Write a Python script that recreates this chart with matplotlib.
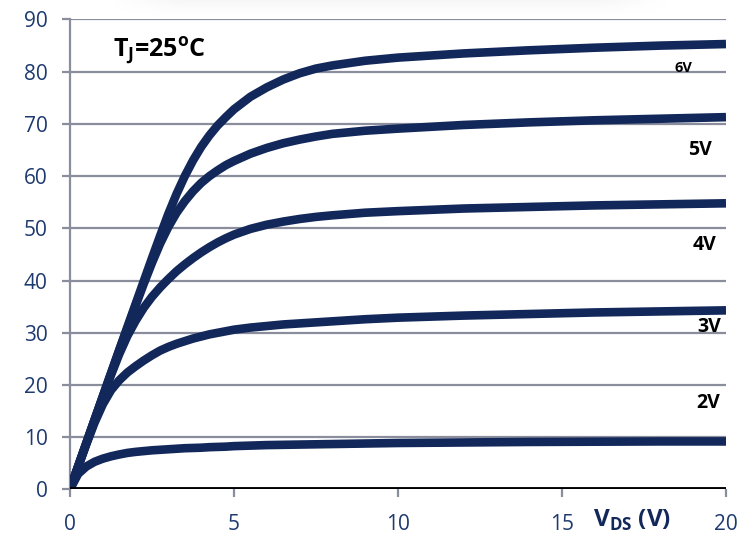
import matplotlib
matplotlib.use("Agg")
import matplotlib.pyplot as plt
import numpy as np

# output characteristics
vds = [0, 0.25, 0.5, 0.75, 1, 1.25, 1.5, 1.75, 2, 2.25, 2.5, 2.75, 3, 3.25, 3.5, 3.75,
       4, 4.25, 4.5, 4.75, 5, 5.5, 6, 6.5, 7, 7.5, 8, 9, 10, 12, 14, 16, 18, 20]
id_6v = [0, 4.45, 8.9, 13.35, 17.8, 22.25, 26.7, 31.1, 35.5, 39.9, 44.3, 48.6, 52.8, 56.6,
         60, 63, 65.6, 67.8, 69.7, 71.3, 72.8, 75.2, 77.0, 78.5, 79.7, 80.6, 81.2,
         82.1, 82.7, 83.5, 84.1, 84.6, 85.0, 85.3]
id_5v = [0, 4.45, 8.9, 13.35, 17.8, 22.2, 26.6, 30.9, 35.2, 39.4, 43.4, 47.1, 50.3, 53,
         55.2, 57.1, 58.7, 60, 61.1, 62.1, 62.9, 64.3, 65.4, 66.3, 67, 67.6, 68.1,
         68.7, 69.1, 69.8, 70.3, 70.7, 71.0, 71.3]
id_4v = [0, 4.45, 8.9, 13.3, 17.6, 21.9, 25.9, 29.4, 32.3, 34.8, 36.9, 38.7, 40.3, 41.8,
         43.1, 44.3, 45.4, 46.4, 47.3, 48.1, 48.8, 49.9, 50.7, 51.3, 51.8, 52.2, 52.5,
         53, 53.3, 53.8, 54.1, 54.4, 54.6, 54.8]
id_3v = [0, 4.4, 8.7, 12.8, 16.3, 19.0, 20.9, 22.4, 23.6, 24.7, 25.7, 26.6, 27.3, 27.9,
         28.4, 28.9, 29.3, 29.7, 30.0, 30.3, 30.6, 31, 31.3, 31.6, 31.8, 32.0, 32.2,
         32.6, 32.9, 33.3, 33.6, 33.9, 34.1, 34.3]
id_2v = [0, 3.0, 4.4, 5.3, 5.9, 6.35, 6.7, 7.0, 7.2, 7.35, 7.5, 7.6, 7.7, 7.8,
         7.9, 7.95, 8.0, 8.1, 8.15, 8.2, 8.3, 8.4, 8.5, 8.55, 8.6, 8.65, 8.7,
         8.8, 8.9, 9.0, 9.1, 9.15, 9.2, 9.2]

curves = [id_2v, id_3v, id_4v, id_5v, id_6v]
labels = ["2V", "3V", "4V", "5V", "6V"]
label_x = [19.45, 19.5, 19.35, 19.2, 18.7]
label_y = [16.6, 31.2, 46.9, 65.0, 80.7]
label_size = [14, 14, 14, 14, 10.5]

navy = "#13285a"
tick_col = "#1e3a6e"
grid_col = "#8a8d9b"

plt.rcParams['font.family'] = ['Open Sans', 'DejaVu Sans']

fig = plt.figure(figsize=(7.39, 5.37), dpi=100)

# faint blurred shadow strip along the top edge
sh = fig.add_axes([110 / 739, 1 - 17 / 537, 560 / 739, 17 / 537])
gx = np.clip(np.minimum(np.linspace(0, 1, 200), np.linspace(1, 0, 200)) * 8, 0, 1)
gy = np.linspace(1, 0, 20) ** 1.5
sh.imshow(np.outer(gy, gx), cmap='Greys', vmin=0, vmax=14, aspect='auto', origin='upper')
sh.axis('off')

ax = fig.add_axes([0.0947, 0.0885, 0.8877, 0.8752])

for y in curves:
    ax.plot(vds, y, color=navy, lw=6.2, solid_capstyle='butt', solid_joinstyle='round', zorder=3)

ax.set_xlim(0, 20)
ax.set_ylim(0, 90)
ax.set_xticks([0, 5, 10, 15, 20])
ax.set_yticks(range(0, 91, 10))
ax.grid(axis='y', color=grid_col, lw=1.6)
ax.set_axisbelow(True)
for s in ['top', 'right', 'bottom']:
    ax.spines[s].set_visible(False)
ax.spines['left'].set_color(grid_col)
ax.spines['left'].set_linewidth(1.6)
ax.axhline(0, color='black', lw=3.5, zorder=4)
ax.tick_params(axis='both', colors=grid_col, length=6, width=1.6,
               labelcolor=tick_col, labelsize=15)
ax.tick_params(axis='y', pad=10)
ax.tick_params(axis='x', pad=12)

for lab, lx, ly, fs in zip(labels, label_x, label_y, label_size):
    ax.text(lx, ly, lab, ha='center', va='center', fontsize=fs,
            fontweight='bold', color='black')

ax.text(1.3, 84, r"T$_\mathregular{J}$=25$^\mathregular{o}$C", ha='left', va='center',
        fontsize=18, fontweight='bold', color='black')
ax.text(15.95, -6.0, r"V$_\mathregular{DS}$ (V)", ha='left', va='center',
        fontsize=17.5, fontweight='bold', color=navy, clip_on=False)

fig.savefig("out.png", dpi=100)
